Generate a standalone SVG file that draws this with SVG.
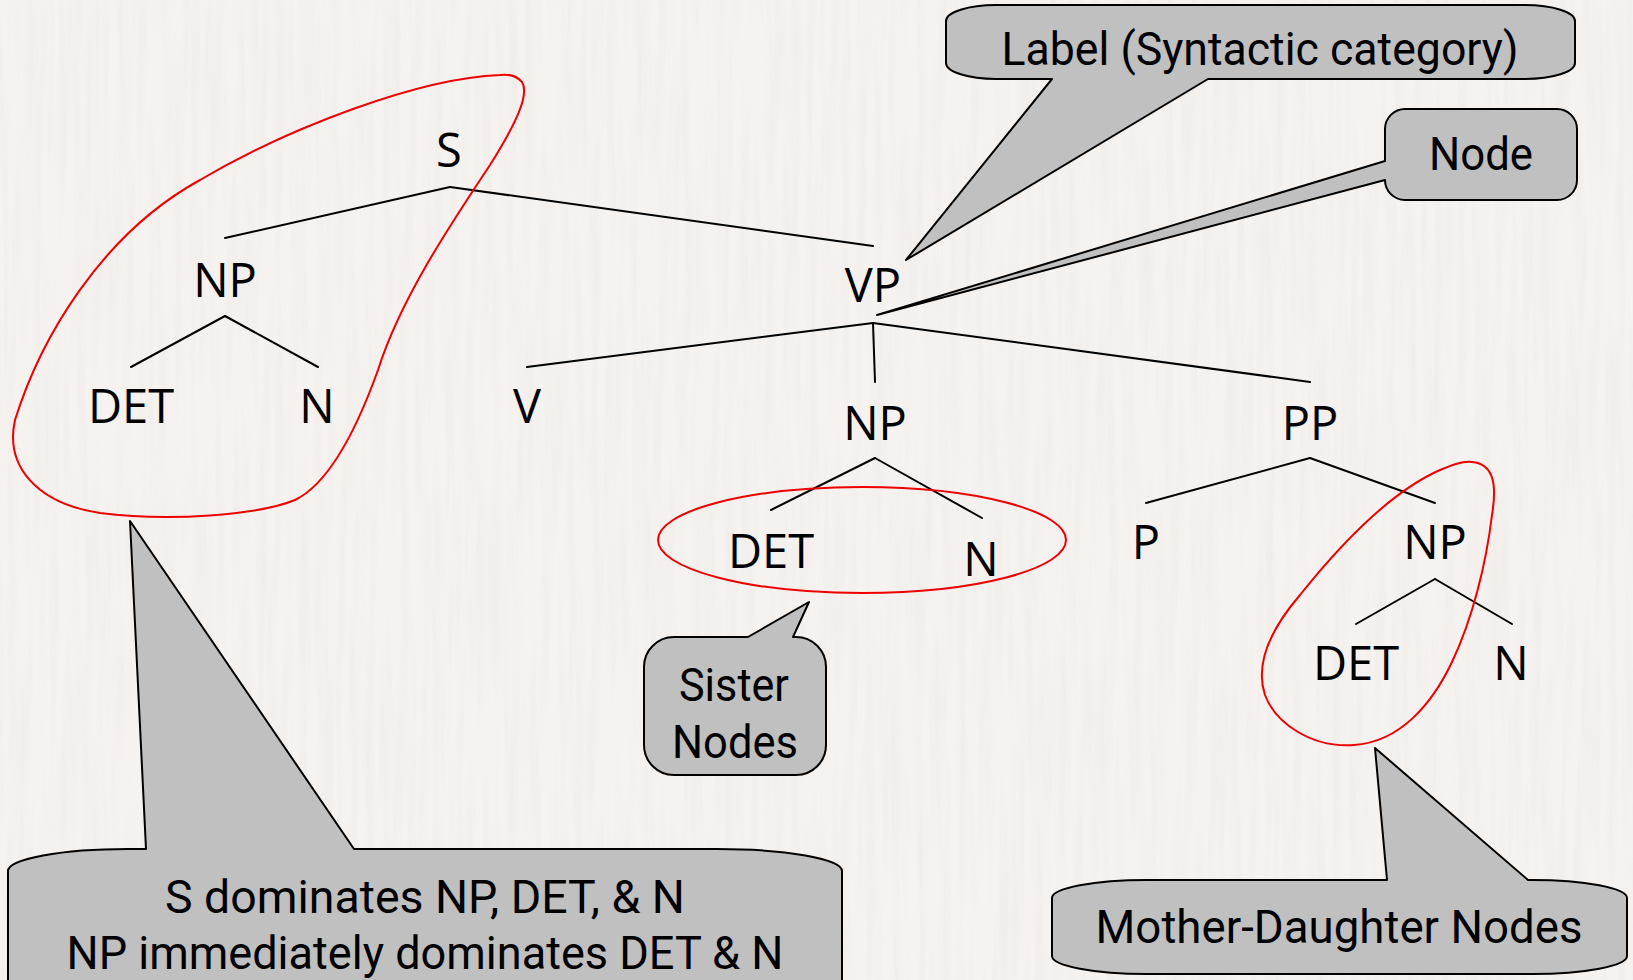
<svg xmlns="http://www.w3.org/2000/svg" width="1633" height="980" viewBox="0 0 1633 980">
  <style>
    .lbl { font-family: "Open Sans", "Noto Sans", sans-serif; font-size: 47px; fill: #000; text-anchor: middle; }
    .edge { stroke: #000; stroke-width: 2; fill: none; stroke-linecap: round; }
    .ring { stroke: #ee0000; stroke-width: 2; fill: none; }
    .callout { fill: #c0c0c0; stroke: #000; stroke-width: 2; stroke-linejoin: round; }
    .ctext { font-family: Roboto, "Liberation Sans", sans-serif; font-size: 47px; fill: #000; text-anchor: middle; }
  </style>
  <defs>
    <!-- faint streaky paper grain -->
    <filter id="grain" x="0" y="0" width="100%" height="100%">
      <feTurbulence type="fractalNoise" baseFrequency="0.12 0.006" numOctaves="3" seed="7" result="n"/>
      <feColorMatrix in="n" type="matrix" values="0 0 0 0 0.55  0 0 0 0 0.53  0 0 0 0 0.5  0 0 0 -1.6 1.0"/>
    </filter>
  </defs>

  <!-- paper background -->
  <rect width="1633" height="980" fill="#f5f2ef"/>
  <rect width="1633" height="980" filter="url(#grain)" opacity="0.12"/>

  <!-- tree branches -->
  <g id="connectors">
    <line class="edge" x1="450" y1="187" x2="225" y2="238"/>
    <line class="edge" x1="450" y1="187" x2="873" y2="246"/>
    <line class="edge" x1="225" y1="316" x2="131" y2="367"/>
    <line class="edge" x1="225" y1="316" x2="318" y2="367"/>
    <line class="edge" x1="873" y1="323" x2="527" y2="367"/>
    <line class="edge" x1="873" y1="323" x2="875" y2="382"/>
    <line class="edge" x1="873" y1="323" x2="1310" y2="382"/>
    <line class="edge" x1="875" y1="458" x2="771" y2="510"/>
    <line class="edge" x1="875" y1="458" x2="982" y2="518"/>
    <line class="edge" x1="1310" y1="458" x2="1146" y2="503"/>
    <line class="edge" x1="1310" y1="458" x2="1435" y2="503"/>
    <line class="edge" x1="1435" y1="579" x2="1356" y2="624"/>
    <line class="edge" x1="1435" y1="579" x2="1512" y2="624"/>
  </g>

  <!-- tree nodes -->
  <g id="node-s"><text class="lbl" x="449" y="167">S</text></g>
  <g id="node-np1"><text class="lbl" x="225" y="297">NP</text></g>
  <g id="node-det1"><text class="lbl" x="131" y="423">DET</text></g>
  <g id="node-n1"><text class="lbl" x="317" y="423">N</text></g>
  <g id="node-v"><text class="lbl" x="527" y="423">V</text></g>
  <g id="node-vp"><text class="lbl" x="873" y="302">VP</text></g>
  <g id="node-np2"><text class="lbl" x="875" y="440">NP</text></g>
  <g id="node-pp"><text class="lbl" x="1310" y="440">PP</text></g>
  <g id="node-det2"><text class="lbl" x="771" y="568">DET</text></g>
  <g id="node-n2"><text class="lbl" x="981" y="576">N</text></g>
  <g id="node-p"><text class="lbl" x="1146" y="559">P</text></g>
  <g id="node-np3"><text class="lbl" x="1435" y="559">NP</text></g>
  <g id="node-det3"><text class="lbl" x="1356" y="680">DET</text></g>
  <g id="node-n3"><text class="lbl" x="1511" y="680">N</text></g>

  <!-- red groupings -->
  <g id="ring-dominance">
    <path class="ring" d="M 500,75 C 420,78 290,127 200,180 C 100,235 40,340 15,420 C 5,465 35,503 100,513 C 170,522 258,515 295,500 C 332,482 360,420 378,370 C 400,300 450,225 490,165 C 515,125 530,95 522,82 C 516,75 508,74 500,75 Z"/>
  </g>
  <g id="ring-sisters">
    <ellipse class="ring" cx="862" cy="540" rx="204" ry="53"/>
  </g>
  <g id="ring-mother-daughter">
    <path class="ring" d="M 1472,462 C 1494,464 1497,485 1492,515 C 1486,565 1472,620 1452,662 C 1432,704 1400,742 1354,745 C 1310,748 1275,722 1265,695 C 1255,665 1270,630 1300,595 C 1340,545 1390,492 1440,470 C 1452,465 1462,461 1472,462 Z"/>
  </g>

  <!-- callouts -->
  <g id="callout-label">
    <path class="callout" d="M 996,5 H 1525 A 50 16 0 0 1 1575 21 V 63 A 50 16 0 0 1 1525 79 H 1208 L 906 260 L 1052 79 H 996 A 50 16 0 0 1 946 63 V 21 A 50 16 0 0 1 996 5 Z"/>
    <text class="ctext" x="1260" y="65" textLength="517" lengthAdjust="spacingAndGlyphs">Label (Syntactic category)</text>
  </g>
  <g id="callout-node">
    <path class="callout" d="M 1405,109 H 1557 A 20 20 0 0 1 1577 129 V 180 A 20 20 0 0 1 1557 200 H 1405 A 20 20 0 0 1 1385 180 L 877 315 L 1385 161 V 129 A 20 20 0 0 1 1405 109 Z"/>
    <text class="ctext" x="1481" y="170" textLength="104" lengthAdjust="spacingAndGlyphs">Node</text>
  </g>
  <g id="callout-sister">
    <path class="callout" d="M 674,637 H 748 L 809 602 L 793 637 H 796 A 30 30 0 0 1 826 667 V 745 A 30 30 0 0 1 796 775 H 674 A 30 30 0 0 1 644 745 V 667 A 30 30 0 0 1 674 637 Z"/>
    <text class="ctext" x="734" y="701" textLength="110" lengthAdjust="spacingAndGlyphs">Sister</text>
    <text class="ctext" x="735" y="758" textLength="126" lengthAdjust="spacingAndGlyphs">Nodes</text>
  </g>
  <g id="callout-dominance">
    <path class="callout" d="M 128,849 H 146 L 130 521 L 354 849 H 717 A 125 22 0 0 1 842 871 V 1000 H 8 V 871 A 120 22 0 0 1 128 849 Z"/>
    <text class="ctext" x="425" y="913" textLength="520" lengthAdjust="spacingAndGlyphs">S dominates NP, DET, &amp; N</text>
    <text class="ctext" x="425" y="969" textLength="717" lengthAdjust="spacingAndGlyphs">NP immediately dominates DET &amp; N</text>
  </g>
  <g id="callout-mother">
    <path class="callout" d="M 1147,880 H 1387 L 1375 748 L 1528 880 H 1532 A 95 18 0 0 1 1627 898 V 956 A 95 18 0 0 1 1532 974 H 1147 A 95 18 0 0 1 1052 956 V 898 A 95 18 0 0 1 1147 880 Z"/>
    <text class="ctext" x="1339" y="943" textLength="487" lengthAdjust="spacingAndGlyphs">Mother-Daughter Nodes</text>
  </g>
</svg>
